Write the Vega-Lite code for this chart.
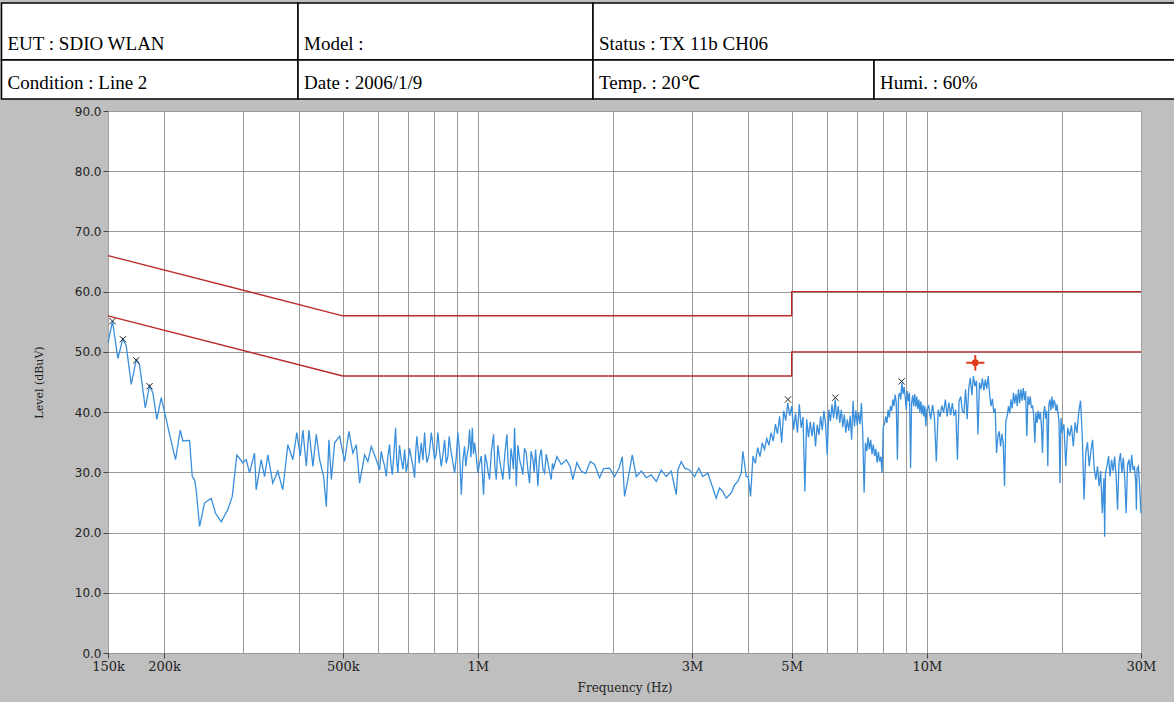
{
  "$schema": "https://vega.github.io/schema/vega-lite/v6.json",
  "width": 1033,
  "height": 542,
  "autosize": "none",
  "padding": {"left": 108, "top": 111, "right": 33, "bottom": 49},
  "background": "#bfbfbf",
  "config": {
    "view": {"fill": "white", "stroke": "#a0a0a0", "strokeWidth": 1}
  },
  "datasets": {
    "trace": [
      {"f":150000,"level":51.5},{"f":153500,"level":55.1},{"f":157800,"level":48.9},{"f":161900,"level":52.2},{"f":164700,"level":51.0},
      {"f":169000,"level":44.6},{"f":173400,"level":48.7},{"f":176300,"level":47.9},{"f":181600,"level":40.7},{"f":185600,"level":44.4},
      {"f":188800,"level":43.2},{"f":192700,"level":38.8},{"f":197100,"level":42.4},{"f":202200,"level":38.8},{"f":205700,"level":36.3},
      {"f":212100,"level":32.1},{"f":217300,"level":37.0},{"f":220200,"level":35.2},{"f":227900,"level":35.3},{"f":231100,"level":29.3},
      {"f":233800,"level":28.8},{"f":235800,"level":27.1},{"f":239900,"level":21.0},{"f":246100,"level":24.9},{"f":254700,"level":25.7},
      {"f":260400,"level":23.2},{"f":268100,"level":21.8},{"f":277300,"level":23.8},{"f":283700,"level":26.0},{"f":290500,"level":32.9},
      {"f":299500,"level":31.6},{"f":304800,"level":32.1},{"f":310000,"level":29.9},{"f":318000,"level":33.2},{"f":320800,"level":27.1},
      {"f":329100,"level":32.1},{"f":334800,"level":29.3},{"f":340500,"level":32.9},{"f":349300,"level":28.2},{"f":358400,"level":30.2},
      {"f":367700,"level":27.1},{"f":377300,"level":34.6},{"f":387100,"level":32.1},{"f":395100,"level":36.6},{"f":402200,"level":32.7},
      {"f":407600,"level":37.0},{"f":414800,"level":31.0},{"f":420400,"level":37.0},{"f":429100,"level":31.0},{"f":436600,"level":36.3},
      {"f":444100,"level":32.1},{"f":453300,"level":29.3},{"f":459600,"level":24.3},{"f":465800,"level":35.4},{"f":471600,"level":28.8},
      {"f":479600,"level":34.9},{"f":492100,"level":36.0},{"f":504800,"level":31.8},{"f":516000,"level":36.8},{"f":526800,"level":33.2},
      {"f":536000,"level":34.6},{"f":545200,"level":28.2},{"f":559400,"level":32.9},{"f":568900,"level":31.8},{"f":578900,"level":34.3},
      {"f":594000,"level":32.1},{"f":604100,"level":30.4},{"f":609000,"level":33.5},{"f":614500,"level":32.1},{"f":620000,"level":31.0},
      {"f":625200,"level":29.3},{"f":630000,"level":32.5},{"f":635800,"level":34.6},{"f":640000,"level":31.5},{"f":644700,"level":29.6},
      {"f":650000,"level":33.0},{"f":655700,"level":37.4},{"f":659500,"level":32.0},{"f":663500,"level":29.9},{"f":669000,"level":34.5},
      {"f":675100,"level":32.1},{"f":681000,"level":30.5},{"f":686700,"level":33.8},{"f":692500,"level":30.0},{"f":698400,"level":31.6},
      {"f":704500,"level":34.0},{"f":710700,"level":32.4},{"f":717000,"level":31.0},{"f":722900,"level":29.1},{"f":727000,"level":33.5},
      {"f":731500,"level":36.0},{"f":740000,"level":31.5},{"f":748100,"level":34.9},{"f":754500,"level":32.0},{"f":760900,"level":36.6},
      {"f":765500,"level":33.5},{"f":770000,"level":31.6},{"f":779000,"level":33.0},{"f":787500,"level":36.6},{"f":794000,"level":34.5},
      {"f":800800,"level":32.1},{"f":807500,"level":33.0},{"f":814500,"level":36.6},{"f":821500,"level":33.5},{"f":828900,"level":31.0},
      {"f":836000,"level":33.0},{"f":843000,"level":35.4},{"f":850000,"level":31.5},{"f":857500,"level":32.7},{"f":863000,"level":36.0},
      {"f":868100,"level":34.3},{"f":878000,"level":32.0},{"f":887500,"level":29.9},{"f":895000,"level":32.5},{"f":902600,"level":36.6},
      {"f":910000,"level":33.5},{"f":918500,"level":26.3},{"f":926000,"level":32.0},{"f":934100,"level":34.3},{"f":940000,"level":31.0},
      {"f":945300,"level":32.7},{"f":952000,"level":34.0},{"f":958400,"level":37.1},{"f":965000,"level":32.5},{"f":971900,"level":37.4},
      {"f":977500,"level":33.0},{"f":983400,"level":34.9},{"f":992000,"level":32.5},{"f":1000000,"level":29.9},{"f":1009000,"level":31.5},
      {"f":1017600,"level":32.7},{"f":1029600,"level":26.3},{"f":1038000,"level":33.0},{"f":1047300,"level":31.6},{"f":1054000,"level":30.0},
      {"f":1061800,"level":28.8},{"f":1072000,"level":33.5},{"f":1083900,"level":36.3},{"f":1091000,"level":31.0},{"f":1099000,"level":28.8},
      {"f":1108000,"level":34.5},{"f":1117800,"level":32.1},{"f":1127000,"level":30.5},{"f":1136900,"level":28.8},{"f":1148000,"level":33.0},
      {"f":1160500,"level":36.3},{"f":1168000,"level":31.5},{"f":1176700,"level":28.8},{"f":1185000,"level":34.0},{"f":1193000,"level":32.4},
      {"f":1200000,"level":30.5},{"f":1207200,"level":37.4},{"f":1217800,"level":27.7},{"f":1228000,"level":34.5},{"f":1238600,"level":32.1},
      {"f":1249000,"level":31.0},{"f":1259500,"level":29.6},{"f":1270000,"level":34.0},{"f":1281700,"level":33.2},{"f":1292000,"level":30.5},
      {"f":1303600,"level":28.2},{"f":1314000,"level":33.5},{"f":1325900,"level":32.1},{"f":1335000,"level":30.0},{"f":1344400,"level":33.8},
      {"f":1352000,"level":31.0},{"f":1360400,"level":27.7},{"f":1372000,"level":32.5},{"f":1384300,"level":33.8},{"f":1396000,"level":30.5},
      {"f":1408000,"level":29.9},{"f":1420000,"level":33.0},{"f":1432000,"level":31.6},{"f":1445000,"level":30.0},{"f":1457200,"level":28.8},
      {"f":1466000,"level":31.5},{"f":1474400,"level":30.7},{"f":1499600,"level":32.6},{"f":1533900,"level":31.3},
      {"f":1573800,"level":32.1},{"f":1606100,"level":30.9},{"f":1627700,"level":28.8},{"f":1661500,"level":31.6},{"f":1699300,"level":30.2},
      {"f":1737400,"level":29.8},{"f":1779800,"level":31.8},{"f":1819500,"level":31.3},{"f":1867000,"level":29.1},{"f":1905500,"level":30.6},
      {"f":1965100,"level":30.7},{"f":2015900,"level":29.3},{"f":2060900,"level":30.6},{"f":2097100,"level":32.6},{"f":2122000,"level":26.0},
      {"f":2158300,"level":28.8},{"f":2207600,"level":32.9},{"f":2253300,"level":29.3},{"f":2311900,"level":30.2},{"f":2372000,"level":29.1},
      {"f":2433700,"level":29.6},{"f":2496900,"level":28.5},{"f":2561400,"level":30.4},{"f":2627900,"level":29.3},{"f":2696000,"level":30.2},
      {"f":2766400,"level":26.3},{"f":2789200,"level":30.4},{"f":2838200,"level":31.8},{"f":2886700,"level":30.7},{"f":2961800,"level":30.4},
      {"f":3038700,"level":29.3},{"f":3106500,"level":30.7},{"f":3170500,"level":29.3},{"f":3252700,"level":29.9},{"f":3310000,"level":28.2},
      {"f":3396000,"level":25.7},{"f":3454200,"level":27.4},{"f":3513300,"level":26.8},{"f":3575000,"level":25.7},{"f":3668000,"level":26.6},
      {"f":3730600,"level":27.9},{"f":3794100,"level":28.5},{"f":3861200,"level":29.9},{"f":3892800,"level":33.5},{"f":3961400,"level":29.3},
      {"f":4000000,"level":29.3},{"f":4050000,"level":26.0},{"f":4100000,"level":32.7},{"f":4150000,"level":31.5},{"f":4200000,"level":34.1},
      {"f":4250000,"level":32.6},{"f":4300000,"level":34.9},{"f":4350000,"level":33.8},{"f":4400000,"level":35.6},{"f":4450000,"level":34.5},
      {"f":4500000,"level":36.6},{"f":4550000,"level":35.2},{"f":4600000,"level":38.0},{"f":4650000,"level":36.4},{"f":4700000,"level":39.3},
      {"f":4750000,"level":34.9},{"f":4800000,"level":40.2},{"f":4850000,"level":38.6},{"f":4900000,"level":41.5},{"f":4950000,"level":39.4},
      {"f":5000000,"level":41.0},{"f":5050000,"level":37.1},{"f":5100000,"level":39.8},{"f":5150000,"level":36.6},{"f":5200000,"level":41.3},
      {"f":5250000,"level":37.4},{"f":5300000,"level":39.2},{"f":5350000,"level":26.8},{"f":5400000,"level":38.8},{"f":5450000,"level":35.8},
      {"f":5500000,"level":38.4},{"f":5550000,"level":36.0},{"f":5600000,"level":38.3},{"f":5650000,"level":34.3},{"f":5700000,"level":37.9},
      {"f":5750000,"level":36.2},{"f":5800000,"level":39.3},{"f":5850000,"level":37.0},{"f":5900000,"level":40.2},{"f":5950000,"level":38.0},
      {"f":6000000,"level":32.9},{"f":6050000,"level":40.4},{"f":6100000,"level":38.5},{"f":6150000,"level":41.3},{"f":6200000,"level":39.0},
      {"f":6250000,"level":42.1},{"f":6300000,"level":38.8},{"f":6350000,"level":41.0},{"f":6400000,"level":38.2},{"f":6450000,"level":40.4},
      {"f":6500000,"level":37.5},{"f":6550000,"level":39.6},{"f":6600000,"level":36.6},{"f":6650000,"level":38.8},{"f":6700000,"level":36.9},
      {"f":6750000,"level":39.4},{"f":6800000,"level":35.4},{"f":6850000,"level":41.9},{"f":6900000,"level":37.6},{"f":6950000,"level":40.3},
      {"f":7000000,"level":37.8},{"f":7050000,"level":39.9},{"f":7100000,"level":38.0},{"f":7150000,"level":41.5},{"f":7200000,"level":36.5},
      {"f":7250000,"level":26.6},{"f":7300000,"level":34.9},{"f":7350000,"level":33.5},{"f":7400000,"level":35.8},{"f":7450000,"level":33.8},
      {"f":7500000,"level":35.4},{"f":7550000,"level":33.0},{"f":7600000,"level":34.6},{"f":7650000,"level":32.7},{"f":7700000,"level":33.9},
      {"f":7750000,"level":31.6},{"f":7800000,"level":33.4},{"f":7850000,"level":31.8},{"f":7900000,"level":32.6},{"f":7950000,"level":29.9},
      {"f":8000000,"level":37.6},{"f":8050000,"level":38.0},{"f":8100000,"level":39.3},{"f":8150000,"level":38.2},{"f":8200000,"level":40.4},
      {"f":8250000,"level":39.1},{"f":8300000,"level":41.0},{"f":8350000,"level":40.2},{"f":8400000,"level":42.1},{"f":8450000,"level":41.0},
      {"f":8500000,"level":42.9},{"f":8550000,"level":41.6},{"f":8600000,"level":32.1},{"f":8650000,"level":42.6},{"f":8700000,"level":43.2},
      {"f":8750000,"level":42.1},{"f":8800000,"level":44.9},{"f":8850000,"level":43.0},{"f":8900000,"level":44.2},{"f":8950000,"level":42.5},
      {"f":9000000,"level":40.4},{"f":9050000,"level":43.5},{"f":9100000,"level":41.8},{"f":9150000,"level":43.2},{"f":9200000,"level":30.7},
      {"f":9250000,"level":41.5},{"f":9300000,"level":42.8},{"f":9350000,"level":41.0},{"f":9400000,"level":43.0},{"f":9450000,"level":40.9},
      {"f":9500000,"level":42.6},{"f":9550000,"level":40.5},{"f":9600000,"level":42.1},{"f":9650000,"level":40.0},{"f":9700000,"level":41.8},
      {"f":9750000,"level":39.6},{"f":9800000,"level":41.2},{"f":9850000,"level":39.3},{"f":9900000,"level":41.0},{"f":9950000,"level":37.6},
      {"f":10000000,"level":40.4},{"f":10100000,"level":41.0},{"f":10200000,"level":38.8},{"f":10300000,"level":41.2},{"f":10400000,"level":39.0},
      {"f":10500000,"level":31.8},{"f":10600000,"level":40.4},{"f":10700000,"level":39.2},{"f":10800000,"level":41.1},{"f":10900000,"level":39.9},
      {"f":11000000,"level":42.1},{"f":11100000,"level":39.3},{"f":11200000,"level":41.6},{"f":11300000,"level":39.5},{"f":11400000,"level":41.5},
      {"f":11500000,"level":39.4},{"f":11600000,"level":40.4},{"f":11700000,"level":32.1},{"f":11800000,"level":41.8},{"f":11900000,"level":42.6},
      {"f":12000000,"level":40.2},{"f":12100000,"level":39.9},{"f":12200000,"level":43.8},{"f":12300000,"level":38.8},{"f":12400000,"level":44.0},
      {"f":12500000,"level":45.7},{"f":12600000,"level":42.8},{"f":12700000,"level":46.0},{"f":12800000,"level":44.3},{"f":12900000,"level":45.2},
      {"f":13000000,"level":36.3},{"f":13100000,"level":44.9},{"f":13200000,"level":43.8},{"f":13300000,"level":45.6},{"f":13400000,"level":43.6},
      {"f":13500000,"level":45.4},{"f":13600000,"level":43.9},{"f":13700000,"level":46.0},{"f":13800000,"level":43.0},{"f":13900000,"level":41.0},
      {"f":14000000,"level":42.2},{"f":14100000,"level":39.9},{"f":14200000,"level":40.6},{"f":14300000,"level":33.2},{"f":14400000,"level":36.0},
      {"f":14500000,"level":36.8},{"f":14600000,"level":34.3},{"f":14700000,"level":36.4},{"f":14800000,"level":34.8},{"f":14900000,"level":27.7},
      {"f":15000000,"level":38.6},{"f":15100000,"level":39.3},{"f":15200000,"level":41.0},{"f":15300000,"level":39.8},{"f":15400000,"level":42.1},
      {"f":15500000,"level":40.6},{"f":15600000,"level":43.2},{"f":15700000,"level":41.4},{"f":15800000,"level":43.0},{"f":15900000,"level":41.0},
      {"f":16000000,"level":43.8},{"f":16100000,"level":41.5},{"f":16200000,"level":43.8},{"f":16300000,"level":41.9},{"f":16400000,"level":44.0},
      {"f":16500000,"level":42.0},{"f":16600000,"level":43.5},{"f":16700000,"level":36.0},{"f":16800000,"level":42.6},{"f":16900000,"level":41.2},
      {"f":17000000,"level":42.6},{"f":17100000,"level":40.8},{"f":17200000,"level":41.0},{"f":17300000,"level":39.6},{"f":17400000,"level":34.9},
      {"f":17500000,"level":39.9},{"f":17600000,"level":38.2},{"f":17700000,"level":40.2},{"f":17800000,"level":38.8},{"f":17900000,"level":40.0},
      {"f":18000000,"level":37.8},{"f":18100000,"level":33.2},{"f":18200000,"level":39.6},{"f":18300000,"level":41.0},{"f":18400000,"level":38.9},
      {"f":18500000,"level":40.2},{"f":18600000,"level":31.0},{"f":18700000,"level":41.2},{"f":18800000,"level":42.1},{"f":18900000,"level":40.3},
      {"f":19000000,"level":42.6},{"f":19100000,"level":40.6},{"f":19200000,"level":42.0},{"f":19300000,"level":41.5},{"f":19400000,"level":40.2},
      {"f":19500000,"level":41.3},{"f":19600000,"level":39.9},{"f":19700000,"level":38.4},{"f":19800000,"level":28.2},{"f":19900000,"level":39.0},
      {"f":20000000,"level":36.6},{"f":20200000,"level":38.0},{"f":20400000,"level":31.0},{"f":20600000,"level":37.4},{"f":20800000,"level":36.0},
      {"f":21000000,"level":37.8},{"f":21200000,"level":34.3},{"f":21400000,"level":38.3},{"f":21600000,"level":36.5},{"f":21800000,"level":40.0},
      {"f":22000000,"level":41.9},{"f":22200000,"level":36.0},{"f":22400000,"level":25.5},{"f":22600000,"level":33.2},{"f":22800000,"level":35.0},
      {"f":23000000,"level":31.0},{"f":23200000,"level":33.6},{"f":23400000,"level":35.4},{"f":23600000,"level":30.6},{"f":23800000,"level":28.8},
      {"f":24000000,"level":31.0},{"f":24200000,"level":27.7},{"f":24400000,"level":30.2},{"f":24600000,"level":23.2},{"f":24800000,"level":29.0},
      {"f":24900000,"level":19.3},{"f":25000000,"level":29.8},{"f":25200000,"level":31.0},{"f":25400000,"level":32.7},{"f":25600000,"level":29.3},
      {"f":25800000,"level":32.1},{"f":26000000,"level":30.2},{"f":26200000,"level":32.6},{"f":26400000,"level":29.5},{"f":26600000,"level":23.8},
      {"f":26800000,"level":31.6},{"f":27000000,"level":33.2},{"f":27200000,"level":29.9},{"f":27400000,"level":32.4},{"f":27600000,"level":29.0},
      {"f":27800000,"level":23.2},{"f":28000000,"level":31.2},{"f":28200000,"level":32.1},{"f":28400000,"level":30.0},{"f":28600000,"level":32.9},
      {"f":28800000,"level":30.4},{"f":29000000,"level":31.0},{"f":29200000,"level":28.5},{"f":29300000,"level":23.8},{"f":29400000,"level":30.6},
      {"f":29600000,"level":31.0},{"f":29800000,"level":27.5},{"f":30000000,"level":23.2}
    ],
    "limits": [
      {"f":150000,"level":66,"limit":"QP","i":0},
      {"f":500000,"level":56,"limit":"QP","i":1},
      {"f":5000000,"level":56,"limit":"QP","i":2},
      {"f":5000000,"level":60,"limit":"QP","i":3},
      {"f":30000000,"level":60,"limit":"QP","i":4},
      {"f":150000,"level":56,"limit":"AV","i":0},
      {"f":500000,"level":46,"limit":"AV","i":1},
      {"f":5000000,"level":46,"limit":"AV","i":2},
      {"f":5000000,"level":50,"limit":"AV","i":3},
      {"f":30000000,"level":50,"limit":"AV","i":4}
    ],
    "peaks": [
      {"f":153500,"level":55.1},{"f":161900,"level":52.1},{"f":173400,"level":48.6},{"f":185600,"level":44.3},
      {"f":4905500,"level":42.1},{"f":6255400,"level":42.4},{"f":8788400,"level":45.1}
    ],
    "worst": [{"f":12823000,"level":48.2}],
    "header": [
      {"row":0,"row1":1,"c0":0,"c1":1,"label":"EUT : SDIO WLAN"},
      {"row":0,"row1":1,"c0":1,"c1":2,"label":"Model :"},
      {"row":0,"row1":1,"c0":2,"c1":4,"label":"Status : TX 11b CH06"},
      {"row":1,"row1":2,"c0":0,"c1":1,"label":"Condition : Line 2"},
      {"row":1,"row1":2,"c0":1,"c1":2,"label":"Date : 2006/1/9"},
      {"row":1,"row1":2,"c0":2,"c1":3,"label":"Temp. : 20℃"},
      {"row":1,"row1":2,"c0":3,"c1":4,"label":"Humi. : 60%"}
    ]
  },
  "layer": [
    {
      "layer": [
        {
          "data": {"name": "limits"},
          "mark": {"type": "line", "color": "#bb2a2a", "strokeWidth": 1.3},
          "encoding": {
            "x": {"field": "f", "type": "quantitative",
                  "scale": {"type": "log", "domain": [150000, 30000000], "nice": false},
                  "axis": {"orient": "top", "title": null, "labels": false, "ticks": false, "domain": false,
                           "grid": true, "gridColor": "#9a9a9a", "gridWidth": 1,
                           "values": [200000,300000,400000,500000,600000,700000,800000,900000,1000000,2000000,3000000,4000000,5000000,6000000,7000000,8000000,9000000,10000000,20000000]}},
            "y": {"field": "level", "type": "quantitative",
                  "scale": {"domain": [0, 90], "nice": false},
                  "axis": {"title": "Level (dBuV)", "values": [0,10,20,30,40,50,60,70,80,90], "format": ".1f",
                           "grid": true, "gridColor": "#9a9a9a", "gridWidth": 1, "domain": false,
                           "tickSize": 5, "tickColor": "#444444",
                           "labelFont": "DejaVu Sans", "labelFontSize": 12, "labelColor": "#222222", "labelPadding": 2,
                           "titleFont": "DejaVu Serif", "titleFontSize": 11, "titleFontWeight": "normal", "titleColor": "#222222", "titlePadding": 30}},
            "detail": {"field": "limit"},
            "order": {"field": "i"}
          }
        },
        {
          "data": {"name": "trace"},
          "mark": {"type": "line", "color": "#3a8fdc", "strokeWidth": 1.3},
          "encoding": {
            "x": {"field": "f", "type": "quantitative", "title": "Frequency (Hz)",
                  "axis": {"orient": "bottom", "grid": false, "domain": false,
                           "values": [150000,200000,500000,1000000,3000000,5000000,10000000,30000000],
                           "labelExpr": "datum.value >= 1000000 ? format(datum.value / 1000000, 'd') + 'M' : format(datum.value / 1000, 'd') + 'k'",
                           "tickSize": 5, "tickColor": "#444444", "labelFlush": false, "labelOverlap": false,
                           "labelFont": "DejaVu Serif", "labelFontSize": 13, "labelColor": "#222222", "labelPadding": 2,
                           "titleFont": "DejaVu Serif", "titleFontSize": 12, "titleFontWeight": "normal", "titleColor": "#222222", "titlePadding": 9}},
            "y": {"field": "level", "type": "quantitative"}
          }
        },
        {
          "data": {"name": "peaks"},
          "mark": {"type": "point", "shape": "M-1,-1L1,1M-1,1L1,-1", "filled": false, "stroke": "#222222", "strokeWidth": 1, "size": 40, "opacity": 1},
          "encoding": {
            "x": {"field": "f", "type": "quantitative", "axis": null},
            "y": {"field": "level", "type": "quantitative"}
          }
        },
        {
          "data": {"name": "worst"},
          "mark": {"type": "point", "shape": "M-1,0L1,0M0,-0.85L0,0.85", "filled": false, "stroke": "#e03a1a", "strokeWidth": 2, "size": 330, "opacity": 1},
          "encoding": {
            "x": {"field": "f", "type": "quantitative", "axis": null},
            "y": {"field": "level", "type": "quantitative"}
          }
        },
        {
          "data": {"name": "worst"},
          "mark": {"type": "point", "shape": "circle", "filled": true, "color": "#e03a1a", "size": 45, "opacity": 1},
          "encoding": {
            "x": {"field": "f", "type": "quantitative", "axis": null},
            "y": {"field": "level", "type": "quantitative"}
          }
        }
      ],
      "resolve": {"axis": {"x": "independent"}}
    },
    {
      "data": {"name": "header"},
      "layer": [
        {
          "mark": {"type": "rect", "fill": "white", "stroke": "black", "strokeWidth": 1.5},
          "encoding": {
            "x": {"field": "c0", "type": "quantitative", "scale": {"domain": [0,1,2,3,4], "range": [-106.5,190,485,766,1070], "nice": false, "zero": false}, "axis": null},
            "x2": {"field": "c1"},
            "y": {"field": "row", "type": "quantitative", "scale": {"domain": [0,1,2], "range": [-108,-51,-12], "nice": false, "zero": false}, "axis": null},
            "y2": {"field": "row1"}
          }
        },
        {
          "mark": {"type": "text", "align": "left", "baseline": "alphabetic", "dx": 6, "dy": -10, "font": "Liberation Serif", "fontSize": 19, "color": "black"},
          "encoding": {
            "x": {"field": "c0", "type": "quantitative", "scale": {"domain": [0,1,2,3,4], "range": [-106.5,190,485,766,1070], "nice": false, "zero": false}, "axis": null},
            "y": {"field": "row1", "type": "quantitative", "scale": {"domain": [0,1,2], "range": [-108,-51,-12], "nice": false, "zero": false}, "axis": null},
            "text": {"field": "label"}
          }
        }
      ]
    }
  ],
  "resolve": {"scale": {"x": "independent", "y": "independent"}}
}
